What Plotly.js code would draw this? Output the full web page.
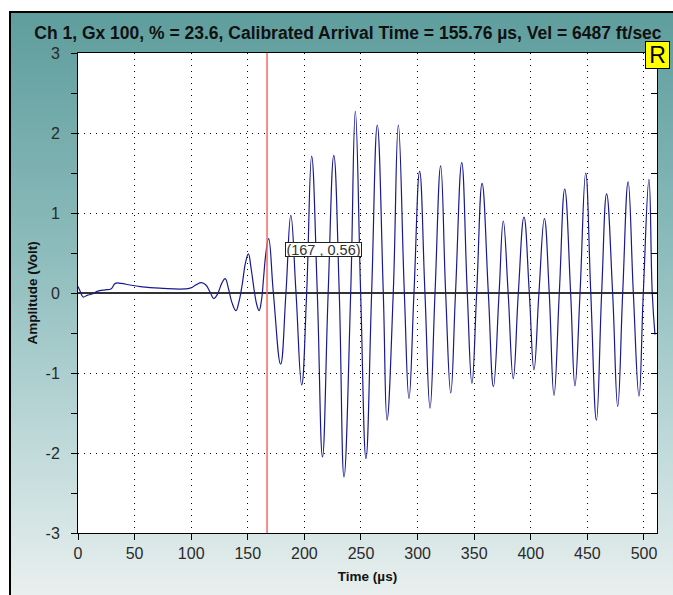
<!DOCTYPE html>
<html>
<head>
<meta charset="utf-8">
<script src="https://cdn.plot.ly/plotly-3.0.1.min.js"></script>
<style>
html,body{margin:0;padding:0;background:#fff;}
#bg{position:absolute;left:9px;top:11px;width:680px;height:600px;border-left:2px solid #000;border-top:2px solid #000;
background:linear-gradient(to bottom,#5f9d9d 0%,#8dbcbc 40%,#c4dcdc 75%,#eef2f1 100%);}
#chart{position:absolute;left:0;top:0;width:673px;height:595px;}
</style>
</head>
<body>
<div id="bg"></div>
<div id="chart"></div>
<script>
// Waveform samples (time in µs, amplitude in Volt)
const timeUs = [
  0, 2, 4.5, 8, 13, 17, 24, 29, 33, 38, 46, 55, 72, 99, 104, 109, 113, 117, 120, 123,
  127, 130, 133, 136, 139.6, 142, 145, 148, 150.5, 153, 156, 158, 160, 162, 164, 166,
  168.4, 172.6, 179, 183.7, 188, 192.6, 197.6, 202, 206.4, 211.4, 216, 221, 226, 230.8,
  235, 240.9, 245, 249.7, 254.4, 259.4, 264.4, 269.7, 273, 278.5, 283, 288.3, 292.4, 296.8,
  301.8, 306.5, 311, 315.4, 320.4, 324.8, 329.3, 333.5, 339, 343.9, 348, 352.2, 357, 362.5,
  367, 372, 375.7, 380, 384.5, 389, 394, 398.7, 402.8, 407.2, 412, 416.3, 420.5, 425.2,
  430, 435.2, 439, 443.5, 448.5, 453, 458, 462.6, 467, 472.3, 476.8, 481.2, 486, 490.6,
  495.6, 499.4, 504.4, 507.3, 509.7
];
const amplitude = [
  0.08, 0.02, -0.05, -0.03, -0.01, 0.02, 0.04, 0.05, 0.12, 0.12, 0.10, 0.08, 0.06, 0.06, 0.10, 0.13, 0.10, 0.00, -0.07, -0.02,
  0.12, 0.18, 0.05, -0.12, -0.22, -0.12, 0.10, 0.38, 0.49, 0.30, 0.00, -0.15, -0.22, -0.10, 0.20, 0.50,
  0.68, 0, -0.89, 0, 0.97, 0, -1.15, 0, 1.71, 0, -2.05, 0, 1.72, 0,
  -2.30, 0, 2.27, 0, -2.07, 0, 2.10, 0, -1.59, 0, 2.10, 0, -1.32, 0,
  1.52, 0, -1.44, 0, 1.59, 0, -1.25, 0, 1.63, 0, -1.13, 0, 1.37, 0,
  -1.17, 0, 0.90, 0, -1.07, 0, 0.95, 0, -0.96, 0, 0.93, 0, -1.28, 0,
  1.30, 0, -1.16, 0, 1.50, 0, -1.59, 0, 1.24, 0, -1.42, 0, 1.39, 0,
  -1.29, 0, 1.42, 0, -0.52
];
const xTicks = [0, 50, 100, 150, 200, 250, 300, 350, 400, 450, 500];
const yTicks = [-3, -2, -1, 0, 1, 2, 3];
const markerTime = 167;
const markerLabel = "(167 , 0.56)";
const titleText = "Ch 1, Gx 100, % = 23.6, Calibrated Arrival Time = 155.76 µs, Vel = 6487 ft/sec";

const FONT = "Arial, 'Liberation Sans', sans-serif";

const traces = [
  {
    x: timeUs, y: amplitude, type: 'scatter', mode: 'lines',
    line: {color: '#1a1a90', width: 1.2, shape: 'spline', smoothing: 1.25},
    hoverinfo: 'skip', showlegend: false
  },
  {
    x: [0, 510], y: [0, 0], type: 'scatter', mode: 'lines', yaxis: 'y2',
    line: {color: 'rgba(0,0,0,0)', width: 0}, hoverinfo: 'skip', showlegend: false
  }
];

const layout = {
  width: 673, height: 595,
  paper_bgcolor: 'rgba(0,0,0,0)',
  plot_bgcolor: '#ffffff',
  margin: {l: 78, r: 16, t: 53, b: 62},
  showlegend: false,
  font: {family: FONT, color: '#222', size: 14},
  title: {
    text: '<b>' + titleText + '</b>',
    font: {family: FONT, size: 17.5, color: '#111'},
    xref: 'container', yref: 'container', x: 0.517, xanchor: 'center', y: 0.945, yanchor: 'middle'
  },
  xaxis: {
    range: [0, 511.5], tickvals: xTicks, ticktext: xTicks.map(String),
    ticks: 'outside', ticklen: 6, tickcolor: '#000', tickwidth: 1,
    showline: true, linecolor: '#000', linewidth: 1, mirror: true,
    showgrid: true, gridcolor: '#000', gridwidth: 1, griddash: '1px,5px',
    zeroline: false,
    tickfont: {family: FONT, size: 16, color: '#2a2a2a'},
    title: {text: '<b>Time (µs)</b>', font: {family: FONT, size: 13.5, color: '#111'}, standoff: 10}
  },
  yaxis: {
    range: [-3, 3], tickvals: yTicks, ticktext: yTicks.map(String),
    ticks: 'outside', ticklen: 6, tickcolor: '#000', tickwidth: 1,
    minor: {dtick: 0.5, ticks: 'outside', ticklen: 6, tickcolor: '#000', showgrid: false},
    showline: true, linecolor: '#000', linewidth: 1, mirror: true,
    showgrid: true, gridcolor: '#000', gridwidth: 1, griddash: '1px,5px',
    zeroline: true, zerolinecolor: '#333', zerolinewidth: 1.5,
    ticklabelstandoff: 8,
    tickfont: {family: FONT, size: 16, color: '#2a2a2a'},
    title: {text: '<b>Amplitude (Volt)</b>', font: {family: FONT, size: 13.5, color: '#111'}, standoff: 4}
  },
  yaxis2: {
    overlaying: 'y', side: 'right', range: [-3, 3], dtick: 0.5,
    ticks: 'inside', ticklen: 6, tickcolor: '#000', showticklabels: false,
    showgrid: false, zeroline: false, showline: false
  },
  shapes: [
    {type: 'line', xref: 'x', yref: 'paper', x0: markerTime, x1: markerTime, y0: 0, y1: 1,
     line: {color: '#ff6464', width: 1.5}}
  ],
  annotations: [
    {xref: 'x', yref: 'y', x: 216.6, y: 0.544, text: markerLabel, showarrow: false,
     font: {family: FONT, size: 14.5, color: '#333'}, bgcolor: '#ffffff', bordercolor: '#222',
     borderwidth: 1, borderpad: 0, width: 75, height: 13},
    {xref: 'paper', yref: 'paper', x: 1.0009, y: 0.9958, text: 'R', showarrow: false,
     font: {family: FONT, size: 23, color: '#000'}, bgcolor: '#ffff00', bordercolor: '#000',
     borderwidth: 1, borderpad: 0, width: 23, height: 26, xanchor: 'center', yanchor: 'middle'}
  ]
};

Plotly.newPlot('chart', traces, layout, {staticPlot: true, displayModeBar: false});
</script>
</body>
</html>
